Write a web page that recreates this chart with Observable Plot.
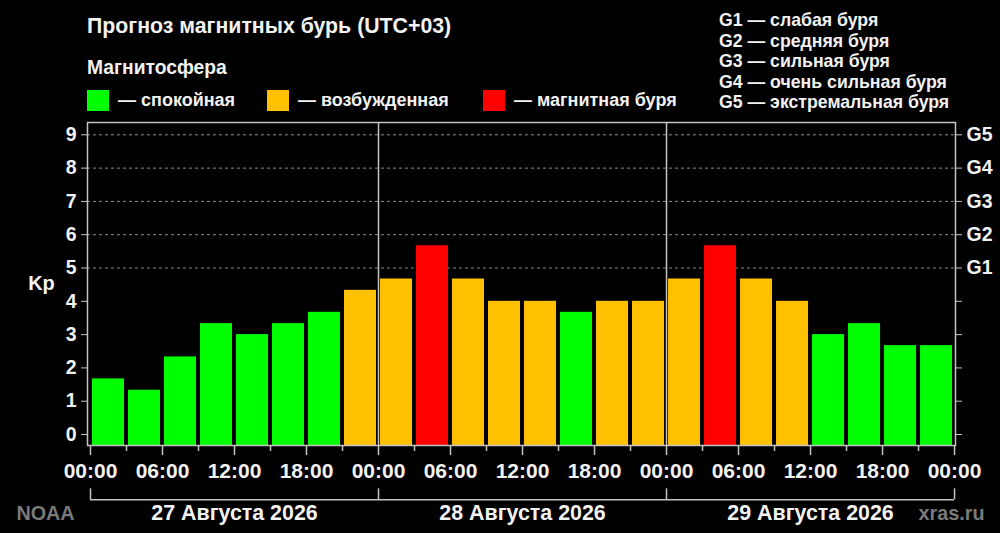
<!DOCTYPE html>
<html>
<head>
<meta charset="utf-8">
<script src="https://cdn.jsdelivr.net/npm/d3@7"></script>
<script src="https://cdn.jsdelivr.net/npm/@observablehq/plot@0.6"></script>
<style>
  html, body { margin: 0; padding: 0; background: #000; }
  #wrap { width: 1000px; height: 533px; background: #000; overflow: hidden; }
  svg { display: block; }
  .hdr text { font-family: "Liberation Sans", Arial, sans-serif; font-weight: bold; fill: #f2f2f2; }
</style>
</head>
<body>
<div id="wrap">
  <svg id="header" class="hdr" width="1000" height="112"></svg>
  <div id="chart"></div>
</div>
<script>
// ---- data ----
const title = "Прогноз магнитных бурь (UTC+03)";
const legendTitle = "Магнитосфера";
const levels = ["спокойная", "возбужденная", "магнитная буря"];
const levelColors = ["#00ff00", "#ffc000", "#ff0000"];
const stormLegend = [
  "G1 — слабая буря",
  "G2 — средняя буря",
  "G3 — сильная буря",
  "G4 — очень сильная буря",
  "G5 — экстремальная буря"
];
const days = ["27 Августа 2026", "28 Августа 2026", "29 Августа 2026"];
const slotHours = [0, 3, 6, 9, 12, 15, 18, 21];
const kp = [
  1.67, 1.33, 2.33, 3.33, 3.00, 3.33, 3.67, 4.33,
  4.67, 5.67, 4.67, 4.00, 4.00, 3.67, 4.00, 4.00,
  4.67, 5.67, 4.67, 4.00, 3.00, 3.33, 2.67, 2.67
];
const status = [
  0, 0, 0, 0, 0, 0, 0, 1,
  1, 2, 1, 1, 1, 0, 1, 1,
  1, 2, 1, 1, 0, 0, 0, 0
];
const kpTicks = [0, 1, 2, 3, 4, 5, 6, 7, 8, 9];
const gLevels = ["G1", "G2", "G3", "G4", "G5"]; // at Kp 5..9
const sources = ["NOAA", "xras.ru"];

// ---- header (title + legends) ----
const font = '"Liberation Sans", Arial, sans-serif';
const hdr = d3.select("#header");
hdr.append("text").attr("x", 87).attr("y", 33).attr("font-size", 21.3).text(title);
hdr.append("text").attr("x", 87).attr("y", 74).attr("font-size", 19.3).text(legendTitle);
const legX = [87, 267, 483];
levels.forEach((lv, i) => {
  hdr.append("rect").attr("x", legX[i]).attr("y", 90).attr("width", 22).attr("height", 21).attr("fill", levelColors[i]);
  hdr.append("text").attr("x", legX[i] + 31).attr("y", 106).attr("font-size", 18).text("— " + lv);
});
stormLegend.forEach((s, i) => {
  hdr.append("text").attr("x", 719).attr("y", 26 + i * 20.5).attr("font-size", 17.7).text(s);
});

// ---- chart ----
const data = kp.map((v, i) => ({
  t: Math.floor(i / 8) * 24 + slotHours[i % 8],
  kp: v,
  status: levels[status[i]]
}));
const dayData = days.map((d, i) => ({label: d, start: i * 24, end: (i + 1) * 24, mid: i * 24 + 12}));
const boundaries = [0, 24, 48, 72];
const majorTicks = d3.range(0, 73, 6);
const minorTicks = d3.range(3, 72, 6);
const yMin = -0.33, yMax = 9.37;
const lineCol = "#c4c4c4";
const fmtHour = h => String(h % 24).padStart(2, "0") + ":00";

const chart = Plot.plot({
  width: 1000,
  height: 421,
  marginLeft: 87,
  marginRight: 45,
  marginTop: 10,
  marginBottom: 88,
  style: {background: "#000", color: "#f2f2f2", fontFamily: font, fontWeight: "bold", fontSize: "18px", overflow: "visible"},
  x: {domain: [-0.25, 72.08], axis: null},
  y: {domain: [yMin, yMax], axis: null},
  color: {domain: levels, range: levelColors},
  marks: [
    Plot.gridY([5, 6, 7, 8, 9], {stroke: "#8c8c8c", strokeOpacity: 1, strokeDasharray: "3,3", strokeWidth: 1}),
    Plot.rect(data, {x1: "t", x2: d => d.t + 3, y1: () => yMin, y2: "kp", fill: "status", insetLeft: 2, insetRight: 2}),
    Plot.ruleX([24, 48], {stroke: lineCol, strokeWidth: 1.5}),
    Plot.frame({stroke: lineCol, strokeWidth: 1.5}),
    Plot.axisY(kpTicks, {anchor: "left", tickSize: 6, tickPadding: 5, stroke: lineCol, fill: "#f2f2f2", fontSize: 19.5, label: null}),
    Plot.axisY(kpTicks, {anchor: "right", tickSize: 6, tickPadding: 5, stroke: lineCol, fill: "#f2f2f2", fontSize: 19.5,
      tickFormat: d => d >= 5 ? gLevels[d - 5] : "", label: null}),
    Plot.axisX(majorTicks, {anchor: "bottom", tickSize: 10, tickPadding: 8, stroke: lineCol, fill: "#f2f2f2", fontSize: 21,
      tickFormat: fmtHour, label: null, strokeWidth: 1.5}),
    Plot.axisX(minorTicks, {anchor: "bottom", tickSize: 6, stroke: lineCol, tickFormat: () => "", label: null, strokeWidth: 1.5}),
    // day brackets
    Plot.ruleY(dayData, {x1: "start", x2: "end", y: () => -1.96, stroke: lineCol, strokeWidth: 1.5}),
    Plot.ruleX(boundaries, {x: d => d, y1: () => -1.63, y2: () => -1.96, stroke: lineCol, strokeWidth: 1.5}),
    Plot.text(dayData, {x: "mid", y: () => -2.37, text: "label", fontSize: 21.4, fill: "#f2f2f2", textAnchor: "middle"}),
    // Kp label
    Plot.text(["Kp"], {x: () => -0.25, y: () => 4.53, text: d => d, dx: -46, fontSize: 20, fill: "#f2f2f2", textAnchor: "middle"}),
    // sources
    Plot.text([sources[0]], {x: () => -0.25, y: () => -2.37, text: d => d, dx: -42, fontSize: 19.8, fill: "#7a7a7a", textAnchor: "middle"}),
    Plot.text([sources[1]], {x: () => 72.08, y: () => -2.37, text: d => d, dx: -4, fontSize: 19.8, fill: "#7a7a7a", textAnchor: "middle"})
  ]
});
document.getElementById("chart").appendChild(chart);
</script>
</body>
</html>
